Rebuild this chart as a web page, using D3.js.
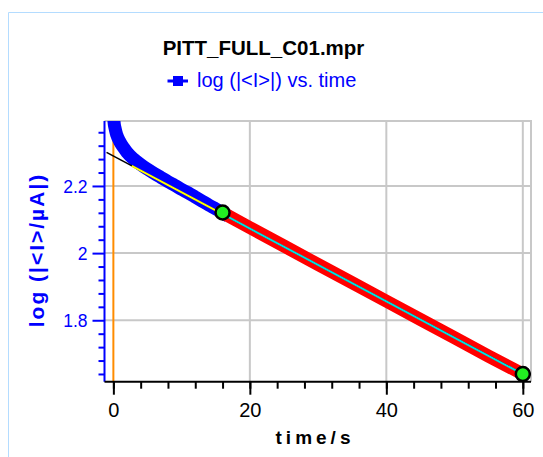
<!DOCTYPE html>
<html>
<head>
<meta charset="utf-8">
<script src="https://cdn.jsdelivr.net/npm/d3@7"></script>
<style>
  body { margin: 0; background: #fff; }
  svg { display: block; font-family: "Liberation Sans", Arial, sans-serif; }
</style>
</head>
<body>
<script>
// data
const blueT = [0, 0.1, 0.25, 0.5, 1, 1.5, 2, 3, 4, 5, 6, 7, 8, 9, 10, 11, 12, 13, 14, 15, 16];
const blueLog = [2.42, 2.39, 2.372, 2.352, 2.330, 2.314, 2.300, 2.280, 2.264, 2.250, 2.237, 2.225, 2.213, 2.202, 2.190, 2.179, 2.167, 2.155, 2.143, 2.132, 2.120];
const redT = [16, 20, 25, 30, 35, 40, 45, 50, 55, 60];
const redLog = [2.120, 2.076, 2.021, 1.966, 1.912, 1.857, 1.802, 1.748, 1.693, 1.640];

const fitT = [-1, 60];
const fitLog = [2.300, 1.640];
const yellowT = [2.7, 15.4];
const yellowLog = [2.260, 2.123];
const cyanT = [16.6, 59.4];
const cyanLog = [2.110, 1.646];
const magentaT = [[15.4, 16.6], [59.4, 60]];
const magentaLog = [[2.123, 2.110], [1.646, 1.640]];
const pointT = [16, 60];
const pointLog = [2.121, 1.640];

const xMajor = [0, 20, 40, 60];
const xMinor = d3.range(0, 61, 4);
const yMajor = [1.8, 2, 2.2];
const yMinor = [1.64, 1.68, 1.72, 1.76, 1.84, 1.88, 1.92, 1.96, 2.04, 2.08, 2.12, 2.16, 2.24, 2.28, 2.32, 2.36];

const title = "PITT_FULL_C01.mpr";
const legendLabel = "log (|<I>|) vs. time";
const xTitle = "time/s";
const yTitle = "log (|<I>/µA|)";

const width = 543, height = 457;
const pLeft = 104.5, pRight = 531, pTop = 121, pBottom = 381.7;

const svg = d3.select("body").append("svg")
    .attr("width", width)
    .attr("height", height);

// outer frame
svg.append("path")
    .attr("d", `M8.5,${height}V12.5H${width}`)
    .attr("fill", "none")
    .attr("stroke", "#b4dcff")
    .attr("stroke-width", 1);

const x = d3.scaleLinear().domain([-1.3, 61.2]).range([pLeft, pRight]);
const y = d3.scaleLinear().domain([1.617, 2.3935]).range([pBottom, pTop]);

svg.append("defs").append("clipPath").attr("id", "plot")
    .append("rect")
    .attr("x", pLeft).attr("y", pTop)
    .attr("width", pRight - pLeft).attr("height", pBottom - pTop);

// grid
const grid = svg.append("g").attr("stroke", "#c8c8c8").attr("stroke-width", 2);
grid.selectAll(".gx").data(xMajor.filter(d => d > 0)).join("line")
    .attr("x1", d => x(d)).attr("x2", d => x(d))
    .attr("y1", pTop).attr("y2", pBottom);
grid.selectAll(".gy").data(yMajor).join("line")
    .attr("x1", pLeft).attr("x2", pRight)
    .attr("y1", d => y(d)).attr("y2", d => y(d));
grid.append("path")
    .attr("d", `M${pLeft},${pTop}H${pRight}V${pBottom}`)
    .attr("fill", "none");

const plot = svg.append("g").attr("clip-path", "url(#plot)");

// vertical marker at t = 0
plot.append("line")
    .attr("x1", x(0)).attr("x2", x(0))
    .attr("y1", pTop).attr("y2", pBottom)
    .attr("stroke", "#ff8c00")
    .attr("stroke-width", 2);

const line = d3.line().x(d => x(d[0])).y(d => y(d[1]));
const pairs = (ts, vs) => ts.map((t, i) => [t, vs[i]]);

plot.append("path")
    .attr("d", line.curve(d3.curveMonotoneX)(pairs(blueT, blueLog)))
    .attr("fill", "none")
    .attr("stroke", "#0000ff")
    .attr("stroke-width", 13)
    .attr("stroke-linecap", "square");

plot.append("path")
    .attr("d", line.curve(d3.curveLinear)(pairs(redT, redLog)))
    .attr("fill", "none")
    .attr("stroke", "#ff0000")
    .attr("stroke-width", 13)
    .attr("stroke-linecap", "butt");

// fit lines
plot.append("path")
    .attr("d", line(pairs(fitT, fitLog)))
    .attr("fill", "none").attr("stroke", "#000").attr("stroke-width", 1.5);
plot.append("path")
    .attr("d", line(pairs(yellowT, yellowLog)))
    .attr("fill", "none").attr("stroke", "#ffff00").attr("stroke-width", 2);
plot.append("path")
    .attr("d", line(pairs(cyanT, cyanLog)))
    .attr("fill", "none").attr("stroke", "#00e0e0").attr("stroke-width", 2);
magentaT.forEach((ts, i) => {
    plot.append("path")
        .attr("d", line(pairs(ts, magentaLog[i])))
        .attr("fill", "none").attr("stroke", "#e040e0").attr("stroke-width", 2);
});

plot.selectAll(".pt").data(pairs(pointT, pointLog)).join("circle")
    .attr("cx", d => x(d[0])).attr("cy", d => y(d[1]))
    .attr("r", 7)
    .attr("fill", "#22ee22")
    .attr("stroke", "#000")
    .attr("stroke-width", 2.5);

// y axis
const yAxis = svg.append("g")
    .attr("transform", `translate(${pLeft},0)`)
    .call(d3.axisLeft(y).tickValues(yMajor).tickSize(12).tickPadding(5)
        .tickSizeOuter(0).tickFormat(d => String(d)));
yAxis.select(".domain").attr("stroke", "#0000ff").attr("stroke-width", 2)
    .attr("d", `M0,${pTop}V${pBottom}`);
yAxis.selectAll(".tick line").attr("stroke", "#0000ff").attr("stroke-width", 2);
yAxis.selectAll(".tick text").attr("fill", "#0000ff")
    .style("font-size", "17.5px").attr("dy", "0.35em");
svg.append("g")
    .attr("transform", `translate(${pLeft},0)`)
    .call(d3.axisLeft(y).tickValues(yMinor).tickSize(6).tickFormat(""))
    .call(g => g.select(".domain").remove())
    .selectAll(".tick line").attr("stroke", "#0000ff").attr("stroke-width", 2);

// x axis
const xAxis = svg.append("g")
    .attr("transform", `translate(0,${pBottom})`)
    .call(d3.axisBottom(x).tickValues(xMajor).tickSize(13).tickPadding(8)
        .tickSizeOuter(0).tickFormat(d => String(d)));
xAxis.select(".domain").attr("stroke", "#000").attr("stroke-width", 2)
    .attr("d", `M${pLeft},0H${pRight}`);
xAxis.selectAll(".tick line").attr("stroke", "#000").attr("stroke-width", 2);
xAxis.selectAll(".tick text").attr("fill", "#000").style("font-size", "20px");
svg.append("g")
    .attr("transform", `translate(0,${pBottom})`)
    .call(d3.axisBottom(x).tickValues(xMinor).tickSize(7).tickFormat(""))
    .call(g => g.select(".domain").remove())
    .selectAll(".tick line").attr("stroke", "#000").attr("stroke-width", 2);

// titles
svg.append("text")
    .attr("x", 263.5).attr("y", 55)
    .attr("text-anchor", "middle")
    .style("font-size", "20.5px").style("font-weight", "bold")
    .text(title);

svg.append("line")
    .attr("x1", 167.5).attr("x2", 188).attr("y1", 81).attr("y2", 81)
    .attr("stroke", "#0000ff").attr("stroke-width", 3);
svg.append("rect")
    .attr("x", 173).attr("y", 76).attr("width", 10).attr("height", 10)
    .attr("fill", "#0000ff");
svg.append("text")
    .attr("x", 197).attr("y", 87)
    .attr("fill", "#0000ff")
    .style("font-size", "20px")
    .text(legendLabel);

svg.append("text")
    .attr("x", 315).attr("y", 444)
    .attr("text-anchor", "middle")
    .style("font-size", "19px").style("font-weight", "bold")
    .style("letter-spacing", "4px")
    .text(xTitle);

svg.append("text")
    .attr("transform", "translate(44,250) rotate(-90)")
    .attr("text-anchor", "middle")
    .attr("fill", "#0000ff")
    .style("font-size", "21px").style("font-weight", "bold")
    .style("letter-spacing", "2px")
    .text(yTitle);
</script>
</body>
</html>
